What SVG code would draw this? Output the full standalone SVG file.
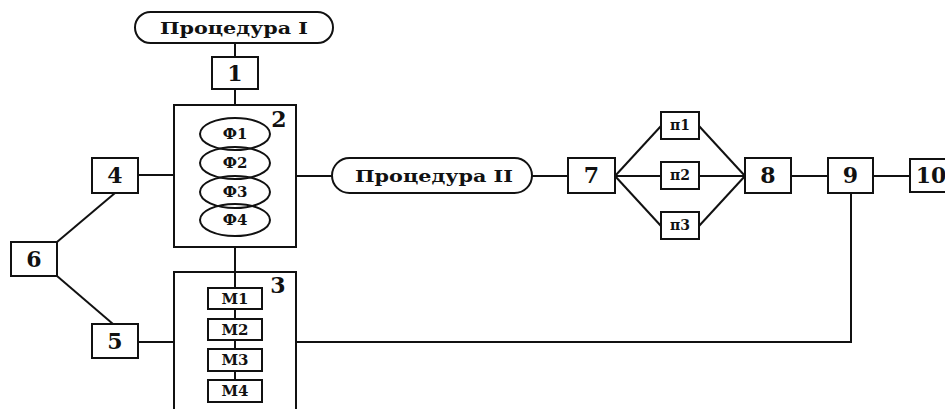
<svg xmlns="http://www.w3.org/2000/svg" width="945" height="409" viewBox="0 0 945 409">
<style>
.b{fill:#fff;stroke:#111;stroke-width:2}
.c{fill:none;stroke:#111;stroke-width:2}
text{font-family:"DejaVu Serif","Liberation Serif",serif;font-weight:bold;fill:#111;text-anchor:middle}
.n{font-size:22px}
.s{font-size:15px}
.q{font-size:14px}
.p{font-size:17px}
</style>
<rect width="945" height="409" fill="#fff"/>
<g id="connectors" class="c">
<line x1="235" y1="43" x2="235" y2="57"/>
<line x1="235" y1="89" x2="235" y2="105"/>
<line x1="235" y1="247" x2="235" y2="272"/>
<line x1="138" y1="175" x2="174" y2="175"/>
<line x1="138" y1="342" x2="174" y2="342"/>
<line x1="57" y1="242" x2="115" y2="193"/>
<line x1="57" y1="276" x2="113" y2="324"/>
<line x1="296" y1="176" x2="332" y2="176"/>
<line x1="532" y1="176" x2="568" y2="176"/>
<line x1="615" y1="176" x2="661" y2="126"/>
<line x1="615" y1="176" x2="661" y2="176"/>
<line x1="615" y1="176" x2="661" y2="226"/>
<line x1="699" y1="126" x2="745" y2="176"/>
<line x1="699" y1="176" x2="745" y2="176"/>
<line x1="699" y1="226" x2="745" y2="176"/>
<line x1="791" y1="176" x2="828" y2="176"/>
<line x1="873" y1="176" x2="910" y2="176"/>
<polyline points="296,342 851,342 851,193"/>
<line x1="235" y1="272" x2="235" y2="288"/>
<line x1="235" y1="309" x2="235" y2="319"/>
<line x1="235" y1="340" x2="235" y2="349"/>
<line x1="235" y1="371" x2="235" y2="380"/>
</g>
<g id="proc1">
<rect class="b" x="135" y="12" width="198" height="31" rx="15.5"/>
<text class="p" x="234" y="34" textLength="148" lengthAdjust="spacingAndGlyphs">Процедура I</text>
</g>
<g id="n1"><rect class="b" x="212" y="57" width="46" height="32"/><text class="n" x="235" y="81">1</text></g>
<g id="n2">
<rect class="b" x="174" y="105" width="122" height="142"/>
<text class="n" x="279" y="127">2</text>
<ellipse class="c" cx="235" cy="134" rx="35" ry="16"/>
<ellipse class="c" cx="235" cy="163" rx="35" ry="16"/>
<ellipse class="c" cx="235" cy="192" rx="35" ry="16"/>
<ellipse class="c" cx="235" cy="220" rx="35" ry="16"/>
<text class="s" x="235" y="139">Ф1</text>
<text class="s" x="235" y="168">Ф2</text>
<text class="s" x="235" y="197">Ф3</text>
<text class="s" x="235" y="225">Ф4</text>
</g>
<g id="n3">
<path class="c" d="M174,415 V272 H296 V415"/>
<text class="n" x="278" y="293">3</text>
<rect class="b" x="208" y="288" width="54" height="21"/><text class="s" x="235" y="304">М1</text>
<rect class="b" x="208" y="319" width="54" height="21"/><text class="s" x="235" y="335">М2</text>
<rect class="b" x="208" y="349" width="54" height="22"/><text class="s" x="235" y="365">М3</text>
<rect class="b" x="208" y="380" width="54" height="22"/><text class="s" x="235" y="396">М4</text>
</g>
<g id="n4"><rect class="b" x="92" y="158" width="46" height="35"/><text class="n" x="115" y="183">4</text></g>
<g id="n5"><rect class="b" x="92" y="324" width="46" height="34"/><text class="n" x="115" y="349">5</text></g>
<g id="n6"><rect class="b" x="11" y="242" width="46" height="34"/><text class="n" x="34" y="267">6</text></g>
<g id="proc2">
<rect class="b" x="332" y="158" width="200" height="35" rx="17.5"/>
<text class="p" x="434" y="182" textLength="158" lengthAdjust="spacingAndGlyphs">Процедура II</text>
</g>
<g id="n7"><rect class="b" x="568" y="158" width="47" height="35"/><text class="n" x="591.5" y="183">7</text></g>
<g id="p1"><rect class="b" x="661" y="112" width="38" height="27"/><text class="q" x="680" y="130">п1</text></g>
<g id="p2"><rect class="b" x="661" y="162" width="38" height="27"/><text class="q" x="680" y="180">п2</text></g>
<g id="p3"><rect class="b" x="661" y="212" width="38" height="27"/><text class="q" x="680" y="230">п3</text></g>
<g id="n8"><rect class="b" x="745" y="158" width="46" height="35"/><text class="n" x="768" y="183">8</text></g>
<g id="n9"><rect class="b" x="828" y="158" width="45" height="35"/><text class="n" x="850.5" y="183">9</text></g>
<g id="n10"><rect class="b" x="910" y="159" width="48" height="33"/><text class="n" x="931" y="183">10</text></g>
</svg>
